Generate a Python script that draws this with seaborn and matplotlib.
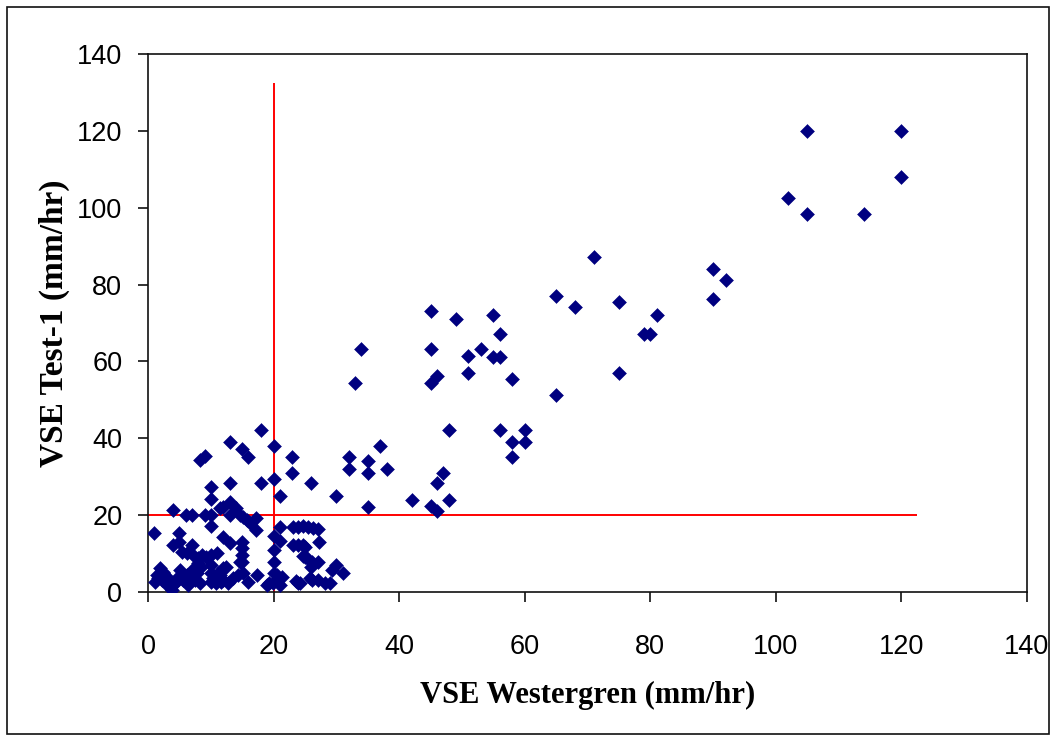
import matplotlib
matplotlib.use('Agg')
import matplotlib.pyplot as plt
from matplotlib import font_manager
from matplotlib.patches import Rectangle
import pandas as pd
import seaborn as sns

# VSE readings, Westergren method (x) vs Test-1 (y), mm/hr
westergren = [
    105, 120, 120, 102, 105, 114,
    71, 90, 92, 90, 65, 68, 75, 81, 79, 80, 75, 65,
    45, 49, 55, 56, 34, 45, 51, 53, 55, 56, 46, 45, 51, 33, 58,
    48, 56, 60, 58, 60, 58,
    37, 32, 32, 35, 35, 38, 26, 30, 35,
    47, 46, 42, 48, 45, 46,
    18, 13, 15, 16, 20, 23, 23, 8.3, 9, 13, 18, 20, 21, 10, 10, 13, 12, 11.5, 14, 4,
    6, 7, 9, 10, 13, 14.7, 15.2, 15.7, 16.2, 17.2, 17.2, 10,
    1, 5, 4, 5, 7, 5.4, 6.2, 12, 13, 15, 15, 15, 15,
    7.2, 8, 8.6, 9.3, 10, 11, 10, 10, 10, 11.2, 11.7, 12,
    1.9, 2.4, 1.1, 1.6, 2.7, 3.5, 4, 3.8,
    1.4, 2.2, 2.4, 3.2, 3.0, 4.3, 4.8, 5.1, 5.6, 6.2, 6.4, 7.0, 7.5, 7.8, 8.3, 8.5, 8.0,
    10.4, 10.9, 11.5, 12.0, 12.5, 12.8, 13.6, 14.4, 14.7, 15.2, 16.0, 17.3,
    18.9, 19.9, 20.5, 21.0, 19.2, 21.3,
    21, 23.1, 23.9, 24.7, 25.5, 26.3, 27.1, 27.3,
    20, 21, 20, 20, 20, 23.1, 23.9, 24.7, 25.0, 25.0,
    24.7, 25.3, 26.1, 27.1, 29.3, 30, 31.1,
    23.6, 23.9, 24.2, 25.8, 26.1, 27.1, 28.2, 29.0, 26.0,
]
test1 = [
    120, 120, 108, 102.4, 98.3, 98.3,
    87.3, 84, 81.2, 76.2, 77, 74.1, 75.4, 72.1, 67.1, 67.1, 57, 51.2,
    73.2, 71.1, 72.2, 67.1, 63.3, 63.3, 61.4, 63.3, 61.2, 61.2, 56.3, 54.3, 57, 54.3, 55.3,
    42.2, 42.2, 42.2, 39.1, 39.1, 35.2,
    38.1, 35.2, 32.1, 34.2, 30.9, 32.1, 28.3, 25, 22.2,
    30.9, 28.3, 23.9, 23.9, 22.4, 21.2,
    42.2, 39.1, 37.1, 35.2, 38, 35.2, 30.9, 34.3, 35.4, 28.3, 28.3, 29.3, 25, 27.2, 24.1, 23.5, 22.2, 21.9, 21.8, 21.3,
    20, 20, 20, 20, 20, 20, 19.6, 18.7, 17.9, 19.2, 16.1, 17.2,
    15.3, 15.3, 12.2, 13.1, 12.2, 10.5, 10.1, 14.4, 12.7, 13.1, 11.4, 9.6, 7.9,
    9.6, 8.8, 9.6, 9.2, 9.6, 10.1, 7, 4.9, 2.7, 4.9, 2.7, 6.2,
    6.2, 5.3, 2.7, 3.6, 3.1, 2.7, 1.8, 0.5,
    4.4, 3.1, 4.9, 3.6, 1.8, 2.3, 4.0, 5.7, 3.1, 4.4, 1.8, 5.7, 3.1, 4.9, 2.3, 6.6, 7.5,
    3.6, 2.3, 4.4, 3.1, 6.6, 2.3, 3.6, 4.4, 7.9, 4.9, 2.7, 4.4,
    1.8, 2.3, 4.4, 1.8, 2.3, 4.0,
    17, 17, 17, 17.3, 17, 16.7, 16.4, 13.1,
    14.6, 13.3, 10.9, 7.9, 5, 12.2, 12.2, 12.2, 11.8, 9.2,
    9.4, 8.8, 7.9, 7.9, 5.7, 7, 4.9,
    2.9, 2.3, 2.3, 3.6, 3.1, 3.1, 2.3, 2.3, 6.6,
]

# cut-off reference lines at 20 mm/hr
cutoff = 20
vline_top = 132.5
hline_end = 122.5

df = pd.DataFrame({'westergren': westergren, 'test1': test1})

sns.set_style('white')

# pick a narrow sans for the tick numbers if there is one
names = set(f.name for f in font_manager.fontManager.ttflist)
if 'Liberation Sans Narrow' in names:
    tick_font, tick_size = 'Liberation Sans Narrow', 22
else:
    tick_font, tick_size = 'Liberation Sans', 19.5

fig = plt.figure(figsize=(10.55, 7.4), dpi=100)
ax = fig.add_axes([148 / 1055, 148 / 740, 879 / 1055, 538 / 740])

sns.scatterplot(data=df, x='westergren', y='test1', marker='D', color='#000080',
                s=50, edgecolor='#000080', linewidth=0.4, ax=ax, zorder=3)

ax.vlines(cutoff, 0, vline_top, color='#ff0000', linewidth=1.4, zorder=2)
ax.hlines(cutoff, 0, hline_end, color='#ff0000', linewidth=1.4, zorder=2)

ax.set_xlim(0, 140)
ax.set_ylim(0, 140)
ax.set_xticks(range(0, 141, 20))
ax.set_yticks(range(0, 141, 20))

for s in ax.spines.values():
    s.set_color('#111111')
    s.set_linewidth(1.2)

# seaborn's white style hides the ticks, Excel had them pointing out
ax.tick_params(axis='both', bottom=True, left=True, direction='out', length=7.5,
               width=1.2, color='#111111', labelcolor='black')
ax.tick_params(axis='x', pad=23)
ax.tick_params(axis='y', pad=11)
for lab in ax.get_xticklabels() + ax.get_yticklabels():
    lab.set_fontfamily(tick_font)
    lab.set_fontsize(tick_size)

ax.set_xlabel('VSE Westergren (mm/hr)', fontfamily='Liberation Serif', fontweight='bold',
              fontsize=22, labelpad=15, color='black')
ax.set_ylabel('VSE Test-1 (mm/hr)', fontfamily='Liberation Serif', fontweight='bold',
              fontsize=24, labelpad=5, color='black')

# outer frame round the whole chart
fig.patches.append(Rectangle((7 / 1055, 6 / 740), 1042 / 1055, 727 / 740, transform=fig.transFigure,
                             fill=False, edgecolor='#111111', linewidth=1.2))

fig.savefig('out.png', dpi=100)
